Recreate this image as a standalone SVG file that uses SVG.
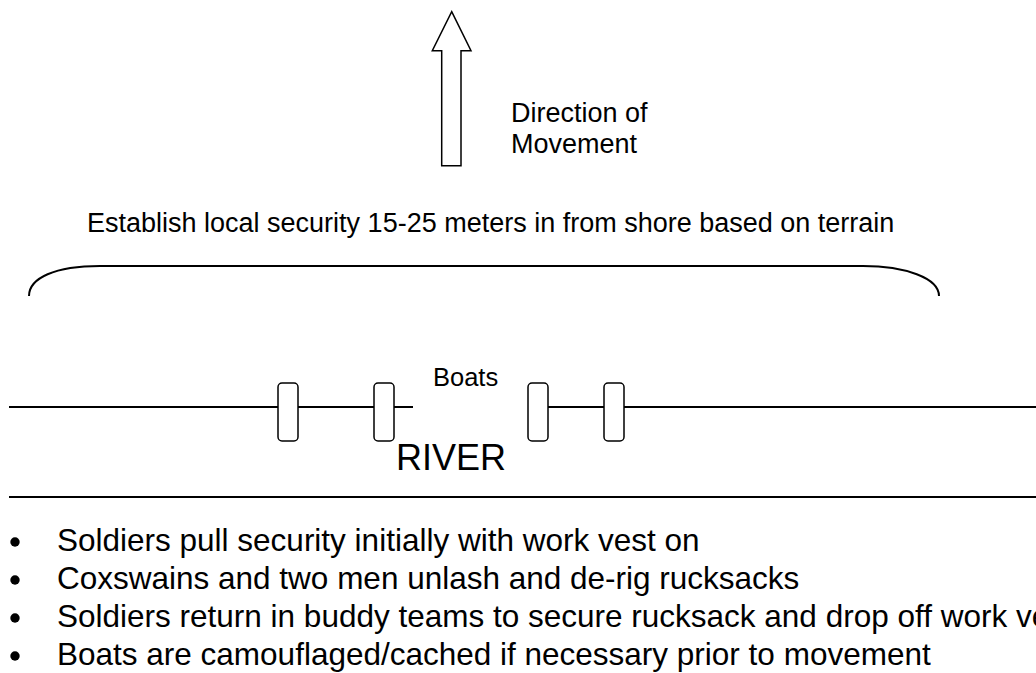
<svg xmlns="http://www.w3.org/2000/svg" width="1036" height="673" viewBox="0 0 1036 673">
<style>
text{font-family:"Liberation Sans",Arial,sans-serif;fill:#000}
.ln{stroke:#000;stroke-width:2;fill:none}
.boat{fill:#fff;stroke:#000;stroke-width:1.5}
.lbl{font-size:27px}
.bul{font-size:31.5px}
</style>
<rect width="1036" height="673" fill="#fff"/>
<g id="arrow">
<path d="M451.7,11.7 L471,50.7 L461,50.7 L461,165.7 L441.7,165.7 L441.7,50.7 L432.3,50.7 Z" fill="#fff" stroke="#000" stroke-width="1.5" stroke-linejoin="miter"/>
<text class="lbl" x="511" y="122">Direction of</text>
<text class="lbl" x="511" y="153">Movement</text>
</g>
<g id="security">
<text class="lbl" x="87" y="232">Establish local security 15-25 meters in from shore based on terrain</text>
<path class="ln" d="M29,296 C29,278 55,266 100,266 L863,266 C905,266 939,278 939,296"/>
</g>
<g id="connectors">
<line class="ln" x1="9" y1="407" x2="413" y2="407"/>
<line class="ln" x1="528" y1="407" x2="1036" y2="407"/>
<line class="ln" x1="9" y1="497" x2="1036" y2="497"/>
</g>
<g id="boats">
<rect class="boat" x="278" y="383" width="20" height="58" rx="4"/>
<rect class="boat" x="374" y="383" width="20" height="58" rx="4"/>
<rect class="boat" x="528" y="383" width="20" height="58" rx="4"/>
<rect class="boat" x="604" y="383" width="20" height="58" rx="4"/>
<text x="433" y="386" font-size="25.5px">Boats</text>
</g>
<g id="river">
<text x="396" y="470" font-size="36px">RIVER</text>
</g>
<g id="bullets">
<circle cx="15" cy="542" r="4.7"/>
<circle cx="15" cy="580" r="4.7"/>
<circle cx="15" cy="618" r="4.7"/>
<circle cx="15" cy="656" r="4.7"/>
<text class="bul" x="57" y="551">Soldiers pull security initially with work vest on</text>
<text class="bul" x="57" y="589">Coxswains and two men unlash and de-rig rucksacks</text>
<text class="bul" x="57" y="627">Soldiers return in buddy teams to secure rucksack and drop off work vest</text>
<text class="bul" x="57" y="665">Boats are camouflaged/cached if necessary prior to movement</text>
</g>
</svg>
